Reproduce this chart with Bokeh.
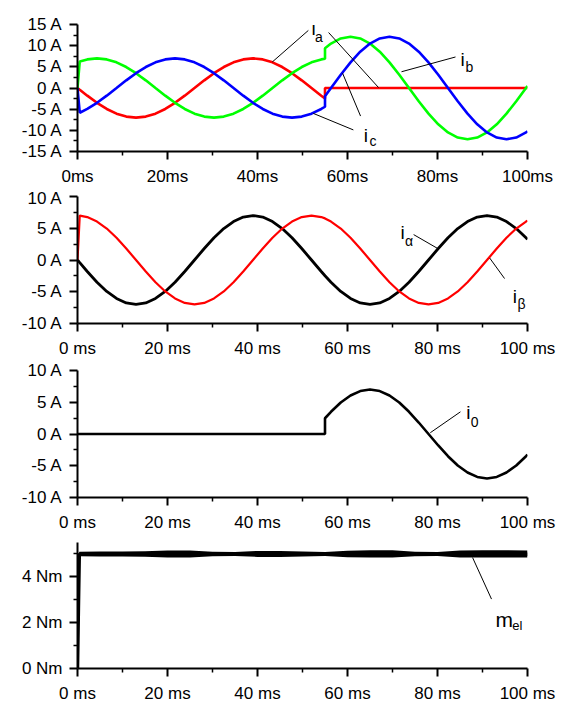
from bokeh.plotting import figure
from bokeh.layouts import column
from bokeh.models import Range1d, FixedTicker, CustomJSTickFormatter, Label
from bokeh.embed import file_html
from bokeh.resources import INLINE

# ---------------- data ----------------
# time axis in ms (shared by the three current panels)
t_ms = [0, 0.5, 2.17, 4.33, 6.5, 8.67, 10.83, 13, 15.17, 17.33, 19.5, 21.67, 23.83,
        26, 28.17, 30.33, 32.5, 34.67, 36.83, 39, 41.17, 43.33, 45.5, 47.67, 49.83,
        52, 54.17, 55, 55, 56.33, 58.5, 60.67, 62.83, 65, 67.17, 69.33, 71.5, 73.67,
        75.83, 78, 80.17, 82.33, 84.5, 86.67, 88.83, 91, 93.17, 95.33, 97.5, 99.67, 100]

i_a = [0, -0.42, -1.81, -3.5, -4.95, -6.06, -6.76, -7, -6.76, -6.06, -4.95, -3.5, -1.81,
       0, 1.81, 3.5, 4.95, 6.06, 6.76, 7, 6.76, 6.06, 4.95, 3.5, 1.81, 0, -1.81, -2.48,
       0, 0, 0, 0, 0, 0, 0, 0, 0, 0, 0, 0, 0, 0, 0, 0, 0, 0, 0, 0, 0, 0, 0]

i_b = [0, 6.26, 6.76, 7, 6.76, 6.06, 4.95, 3.5, 1.81, 0, -1.81, -3.5, -4.95, -6.06,
       -6.76, -7, -6.76, -6.06, -4.95, -3.5, -1.81, 0, 1.81, 3.5, 4.95, 6.06, 6.76,
       6.91, 9.39, 10.5, 11.71, 12.12, 11.71, 10.5, 8.57, 6.06, 3.14, 0, -3.14, -6.06,
       -8.57, -10.5, -11.71, -12.12, -11.71, -10.5, -8.57, -6.06, -3.14, 0, 0.49]

i_c = [0, -5.84, -4.95, -3.5, -1.81, 0, 1.81, 3.5, 4.95, 6.06, 6.76, 7, 6.76, 6.06,
       4.95, 3.5, 1.81, 0, -1.81, -3.5, -4.95, -6.06, -6.76, -7, -6.76, -6.06, -4.95,
       -4.43, -1.94, 0, 3.14, 6.06, 8.57, 10.5, 11.71, 12.12, 11.71, 10.5, 8.57, 6.06,
       3.14, 0, -3.14, -6.06, -8.57, -10.5, -11.71, -12.12, -11.71, -10.5, -10.24]

i_alpha = [0, -0.42, -1.81, -3.5, -4.95, -6.06, -6.76, -7, -6.76, -6.06, -4.95, -3.5,
           -1.81, 0, 1.81, 3.5, 4.95, 6.06, 6.76, 7, 6.76, 6.06, 4.95, 3.5, 1.81, 0,
           -1.81, -2.48, -2.48, -3.5, -4.95, -6.06, -6.76, -7, -6.76, -6.06, -4.95,
           -3.5, -1.81, 0, 1.81, 3.5, 4.95, 6.06, 6.76, 7, 6.76, 6.06, 4.95, 3.5, 3.25]

i_beta = [0, 6.99, 6.76, 6.06, 4.95, 3.5, 1.81, 0, -1.81, -3.5, -4.95, -6.06, -6.76,
          -7, -6.76, -6.06, -4.95, -3.5, -1.81, 0, 1.81, 3.5, 4.95, 6.06, 6.76, 7,
          6.76, 6.55, 6.55, 6.06, 4.95, 3.5, 1.81, 0, -1.81, -3.5, -4.95, -6.06, -6.76,
          -7, -6.76, -6.06, -4.95, -3.5, -1.81, 0, 1.81, 3.5, 4.95, 6.06, 6.2]

i_zero = [0, 0, 0, 0, 0, 0, 0, 0, 0, 0, 0, 0, 0, 0, 0, 0, 0, 0, 0, 0, 0, 0, 0, 0, 0,
          0, 0, 0, 2.48, 3.5, 4.95, 6.06, 6.76, 7, 6.76, 6.06, 4.95, 3.5, 1.81, 0,
          -1.81, -3.5, -4.95, -6.06, -6.76, -7, -6.76, -6.06, -4.95, -3.5, -3.25]

# electrical torque (Nm): mean line and noise envelope
mel_t = [0, 0.2, 0.4, 5, 10, 15, 20, 25, 30, 35, 40, 45, 50, 55, 60, 65, 70, 75, 80,
         85, 90, 95, 100]
mel = [0, 2.6, 5.0, 5.0, 5.0, 4.99, 5.0, 5.01, 4.99, 5.0, 5.0, 5.0, 5.0, 5.0, 5.0,
       5.0, 5.01, 5.0, 5.0, 5.0, 5.0, 5.0, 4.99]
mel_hi = [0, 2.6, 5.1, 5.11, 5.11, 5.12, 5.15, 5.15, 5.1, 5.09, 5.13, 5.13, 5.11,
          5.09, 5.14, 5.16, 5.16, 5.1, 5.09, 5.15, 5.16, 5.16, 5.15]
mel_lo = [0, 2.6, 4.9, 4.89, 4.89, 4.88, 4.85, 4.85, 4.9, 4.91, 4.87, 4.87, 4.89,
          4.91, 4.86, 4.84, 4.84, 4.9, 4.91, 4.85, 4.84, 4.84, 4.85]

x_ticks = [0, 20, 40, 60, 80, 100]
x_minor = [10, 30, 50, 70, 90]

# ---------------- styling helpers ----------------
FONT = "Liberation Sans"
RED, GREEN, BLUE = "#ff0000", "#00ff00", "#0000ff"


def make_fig(height, top, bottom, yr, yticks, yminor, yunit, xsuffix):
    p = figure(width=560, height=height, x_range=Range1d(0, 100), y_range=Range1d(*yr),
               output_backend="svg", toolbar_location=None, title=None,
               min_border_left=77, min_border_right=33,
               min_border_top=top, min_border_bottom=bottom)
    p.xgrid.visible = False
    p.ygrid.visible = False
    p.outline_line_color = None
    for ax in (p.xaxis[0], p.yaxis[0]):
        ax.axis_line_width = 2
        ax.axis_line_color = "black"
        ax.major_tick_line_width = 2
        ax.minor_tick_line_width = 1.5
        ax.major_tick_line_color = "black"
        ax.minor_tick_line_color = "black"
        ax.major_tick_in = 0
        ax.major_tick_out = 8
        ax.minor_tick_in = 0
        ax.minor_tick_out = 4
        ax.major_label_text_font = FONT
        ax.major_label_text_font_size = "17px"
        ax.major_label_text_color = "black"
        ax.major_label_standoff = 7
    p.xaxis[0].ticker = FixedTicker(ticks=x_ticks, minor_ticks=x_minor)
    p.xaxis[0].formatter = CustomJSTickFormatter(code="return tick + '%s';" % xsuffix)
    p.yaxis[0].ticker = FixedTicker(ticks=yticks, minor_ticks=yminor)
    p.yaxis[0].formatter = CustomJSTickFormatter(code="return tick + '%s';" % yunit)
    return p


def label(p, x, y, txt, size, sub=None, sx=None, sy=None, subsize=None):
    p.add_layout(Label(x=x, y=y, text=txt, text_font=FONT, text_font_size=size,
                       text_align="left", text_baseline="alphabetic", text_color="black"))
    if sub is not None:
        p.add_layout(Label(x=sx, y=sy, text=sub, text_font=FONT, text_font_size=subsize,
                           text_align="left", text_baseline="alphabetic", text_color="black"))


# ---------------- panel 1: phase currents ----------------
p1 = make_fig(188, 24, 35, (-15, 15), [-15, -10, -5, 0, 5, 10, 15],
              [-12.5, -7.5, -2.5, 2.5, 7.5, 12.5], " A", "ms")
p1.line(t_ms, i_a, line_color=RED, line_width=2.6)
p1.line(t_ms, i_b, line_color=GREEN, line_width=2.6)
p1.line(t_ms, i_c, line_color=BLUE, line_width=2.6)
p1.segment(x0=[51.3, 55.8, 84.0, 61.3, 62.9], y0=[13.6, 13.1, 7.33, -9.9, -6.63],
           x1=[43.3, 66.9, 72.0, 52.4, 58.9], y1=[6.16, 0.1, 3.84, -6.0, 3.5],
           line_color="black", line_width=1)
label(p1, 52.0, 14.07, "i", "19px", "a", 52.8, 11.98, "14px")
label(p1, 85.1, 6.63, "i", "19px", "b", 86.2, 5.0, "14px")
label(p1, 63.6, -11.28, "i", "19px", "c", 64.9, -12.44, "14px")

# ---------------- panel 2: alpha / beta currents ----------------
p2 = make_fig(172, 8, 35, (-10, 10), [-10, -5, 0, 5, 10],
              [-7.5, -2.5, 2.5, 7.5], " A", " ms")
p2.line(t_ms, i_alpha, line_color="black", line_width=2.8)
p2.line(t_ms, i_beta, line_color=RED, line_width=2.2)
p2.segment(x0=[74.7, 94.9], y0=[4.0, -2.92], x1=[80.07, 91.6], y1=[1.8, 0.31],
           line_color="black", line_width=1)
label(p2, 71.8, 4.31, "i", "19px", "\u03b1", 72.8, 2.92, "14px")
label(p2, 96.7, -5.69, "i", "19px", "\u03b2", 97.8, -6.92, "14px")

# ---------------- panel 3: zero-sequence current ----------------
p3 = make_fig(174, 10, 35, (-10, 10), [-10, -5, 0, 5, 10],
              [-7.5, -2.5, 2.5, 7.5], " A", " ms")
p3.line(t_ms, i_zero, line_color="black", line_width=2.6)
p3.segment(x0=[85.1], y0=[3.49], x1=[78.4], y1=[0.2], line_color="black", line_width=1)
label(p3, 86.4, 3.33, "i", "19px", "0", 87.4, 1.94, "14px")

# ---------------- panel 4: electrical torque ----------------
p4 = make_fig(171, 8, 35, (0, 5.5), [0, 2, 4], [1, 3, 5], " Nm", " ms")
p4.varea(x=mel_t, y1=mel_lo, y2=mel_hi, fill_color="black")
p4.line(mel_t, mel, line_color="black", line_width=3.5)
p4.segment(x0=[92.0], y0=[3.03], x1=[87.8], y1=[4.84], line_color="black", line_width=1)
label(p4, 92.9, 2.15, "m", "21px", "el", 96.6, 1.89, "13px")

layout = column(p1, p2, p3, p4, spacing=0)
open("out.html", "w").write(file_html(layout, INLINE))
